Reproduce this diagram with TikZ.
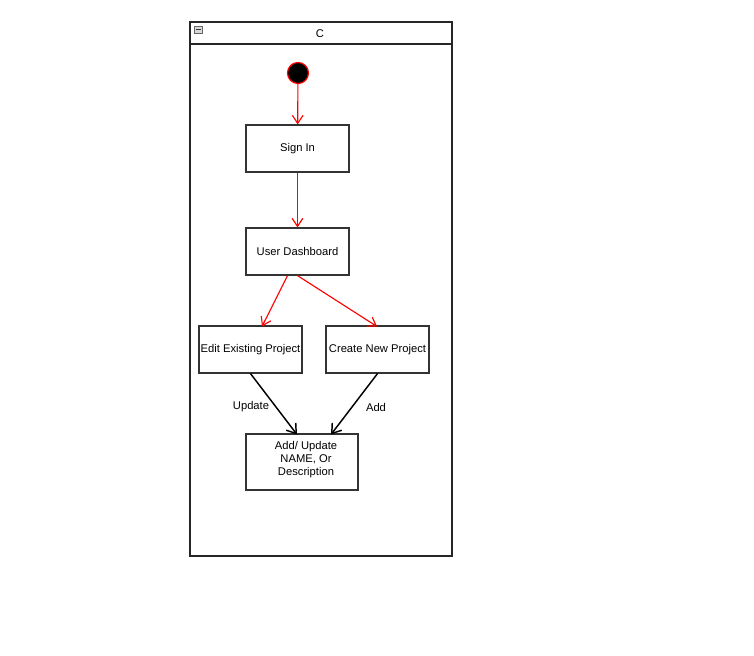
\documentclass[tikz,border=0pt]{standalone}
\usepackage{fontspec}
\setmainfont{Liberation Sans}
\usetikzlibrary{arrows.meta}
\begin{document}
\begin{tikzpicture}[x=0.75pt,y=-0.75pt,
  font=\fontsize{8.4}{9.75}\selectfont,
  statebox/.style={draw=black!80,line width=0.9pt,fill=white,minimum width=77.25pt,minimum height=35.25pt,inner sep=1pt,align=center},
  flow/.style={draw=red,line width=0.85pt,-{Straight Barb[length=6pt,width=8pt]}},
  choice/.style={draw=black,line width=1.1pt,-{Straight Barb[length=6.5pt,width=9pt]}},
  lbl/.style={inner sep=0pt}]
  % canvas
  \useasboundingbox (0,0) rectangle (754,656);
  % container frame with header
  \draw[black!85,line width=0.9pt] (190,22) rectangle (452,556);
  \draw[black!85,line width=0.9pt] (190,44) -- (452,44);
  \node[lbl] (title) at (320,33.5) {C};
  \draw[black!60,fill=black!15,line width=0.4pt] (194,26) rectangle (202,33);
  \draw[black!80,line width=0.6pt] (195.5,29.5) -- (200.5,29.5);
  % initial state
  \node[circle,fill=black,draw=red,line width=0.9pt,minimum size=21pt*0.75,inner sep=0pt] (start) at (298,73) {};
  % states
  \node[statebox] (signin) at (297.5,148.5) {Sign In};
  \node[statebox] (dash) at (297.5,251.5) {User Dashboard};
  \node[statebox] (edit) at (250.5,349.5) {Edit Existing Project};
  \node[statebox] (create) at (377.5,349.5) {Create New Project};
  \node[statebox,minimum width=84pt,minimum height=42pt] (upd) at (302,462) {};
  \node[lbl,align=center] (updtext) at (306,459.5) {Add/ Update\\NAME, Or\\Description};
  % transitions
  \draw[flow] (start) -- (signin);
  \draw[flow] (signin) -- (dash);
  \draw[flow] (dash.south) ++(-10,0) coordinate (d1) (d1) -- (262,326.5) coordinate (e1);
  \draw[flow] (dash.south) -- (377,326.5);
  \draw[choice] (edit.south) -- (297,434.5);
  \draw[choice] (create.south) -- (331,434.5);
  \node[lbl] (lu) at (251,407) {Update};
  \node[lbl] (la) at (376,407) {Add};
\end{tikzpicture}
\end{document}
